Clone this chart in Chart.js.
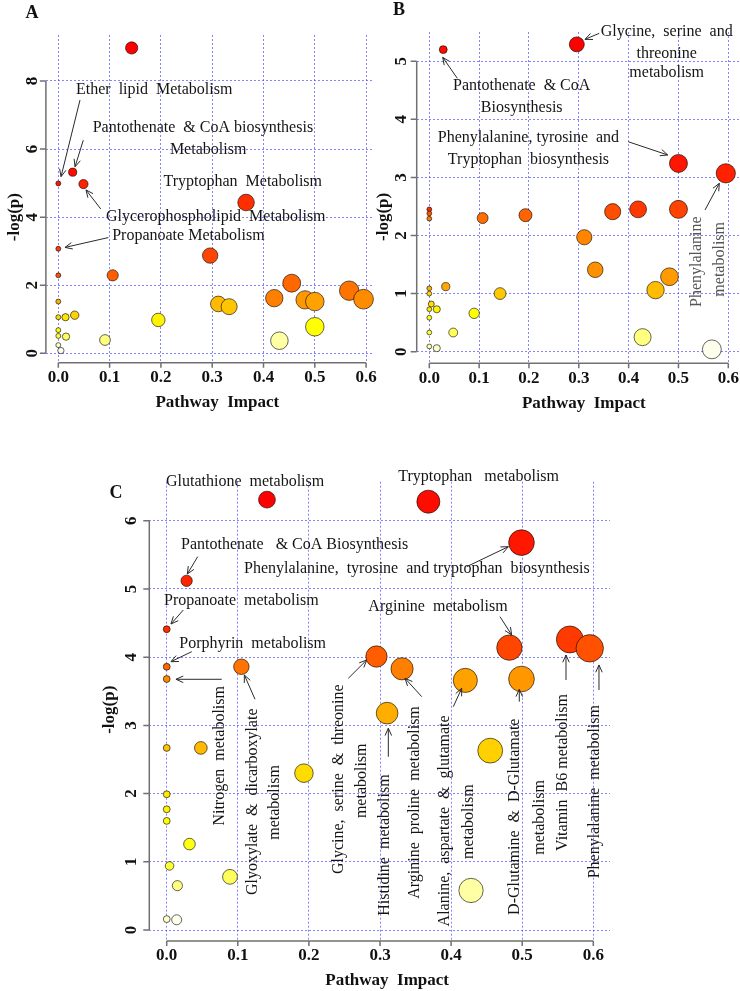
<!DOCTYPE html>
<html>
<head>
<meta charset="utf-8">
<script src="https://cdn.jsdelivr.net/npm/chart.js@4.4.0/dist/chart.umd.min.js"></script>
<style>
  html, body { margin: 0; padding: 0; background: #fff; }
  body { width: 740px; height: 991px; position: relative; overflow: hidden; }
  canvas { position: absolute; }
  #chartA { left: 0; top: 0; }
  #chartB { left: 370px; top: 0; }
  #chartC { left: 90px; top: 450px; }
</style>
</head>
<body>
<canvas id="chartA" width="390" height="420"></canvas>
<canvas id="chartB" width="390" height="420"></canvas>
<canvas id="chartC" width="560" height="541"></canvas>
<script>
// panel A : pathway impact vs -log(p)
const aImpact = [0.143, 0.000, 0.028, 0.049, 0.366, 0.000, 0.000, 0.106, 0.296, 0.455,
                 0.421, 0.481, 0.500, 0.567, 0.595, 0.312, 0.333, 0.195, 0.500, 0.000,
                 0.000, 0.014, 0.032, 0.000, 0.000, 0.015, 0.000, 0.005, 0.091, 0.431];
const aLogP   = [8.97, 4.99, 5.32, 4.97, 4.43, 3.07, 2.29, 2.29, 2.87, 2.06,
                 1.62, 1.57, 1.52, 1.84, 1.59, 1.45, 1.37, 0.98, 0.78, 1.52,
                 1.06, 1.06, 1.12, 0.68, 0.51, 0.49, 0.24, 0.08, 0.39, 0.37];

// panel B
const bImpact = [0.028, 0.296, 0.500, 0.595, 0.000, 0.000, 0.000, 0.107, 0.193, 0.368,
                 0.419, 0.500, 0.311, 0.333, 0.482, 0.454, 0.142, 0.033, 0.000, 0.000,
                 0.004, 0.000, 0.015, 0.000, 0.090, 0.000, 0.048, 0.000, 0.015, 0.428, 0.567];
const bLogP   = [5.20, 5.29, 3.24, 3.07, 2.45, 2.38, 2.29, 2.30, 2.35, 2.41,
                 2.45, 2.45, 1.97, 1.41, 1.29, 1.06, 1.00, 1.12, 1.09, 1.00,
                 0.82, 0.73, 0.73, 0.585, 0.66, 0.33, 0.33, 0.09, 0.06, 0.25, 0.04];

// panel C
const cImpact = [0.141, 0.368, 0.499, 0.028, 0.000, 0.000, 0.000, 0.105, 0.295, 0.331,
                 0.310, 0.420, 0.482, 0.499, 0.567, 0.595, 0.455, 0.428, 0.048, 0.000,
                 0.193, 0.000, 0.000, 0.000, 0.032, 0.004, 0.015, 0.089, 0.000, 0.014];
const cLogP   = [6.31, 6.28, 5.68, 5.12, 4.41, 3.86, 3.68, 3.86, 4.01, 3.83,
                 3.18, 3.66, 4.14, 3.68, 4.26, 4.13, 2.63, 0.58, 2.67, 2.67,
                 2.30, 1.99, 1.77, 1.60, 1.26, 0.94, 0.65, 0.78, 0.16, 0.15];

const impactTicks = [0, 0.1, 0.2, 0.3, 0.4, 0.5, 0.6];
const impactTickLabels = ['0.0', '0.1', '0.2', '0.3', '0.4', '0.5', '0.6'];
const aLogPTicks = [0, 2, 4, 6, 8];
const bLogPTicks = [0, 1, 2, 3, 4, 5];
const cLogPTicks = [0, 1, 2, 3, 4, 5, 6];

// labels (anchored in data units)
const aNotes = [
  { t: 'Ether  lipid  Metabolism', x: 0.0345, y: 7.73 },
  { t: 'Pantothenate  & CoA biosynthesis', x: 0.067, y: 6.62 },
  { t: 'Metabolism', x: 0.292, y: 5.97, align: 'center' },
  { t: 'Tryptophan  Metabolism', x: 0.205, y: 5.04 },
  { t: 'Glycerophospholipid  Metabolism', x: 0.093, y: 4.01 },
  { t: 'Propanoate Metabolism', x: 0.105, y: 3.44 }
];
const aArrows = [
  [[0.0423, 7.44], [0.0053, 5.19]],
  [[0.0487, 6.26], [0.0326, 5.48]],
  [[0.0827, 4.24], [0.054, 4.80]],
  [[0.0975, 3.40], [0.013, 3.11]]
];
const bNotes = [
  { t: 'Glycine,  serine  and', x: 0.4764, y: 5.508, align: 'center' },
  { t: 'threonine', x: 0.4764, y: 5.136, align: 'center' },
  { t: 'metabolism', x: 0.4764, y: 4.802, align: 'center' },
  { t: 'Pantothenate  & CoA', x: 0.1854, y: 4.578, align: 'center' },
  { t: 'Biosynthesis', x: 0.1854, y: 4.206, align: 'center' },
  { t: 'Phenylalanine, tyrosine  and', x: 0.199, y: 3.69, align: 'center' },
  { t: 'Tryptophan  biosynthesis', x: 0.199, y: 3.31, align: 'center' },
  { t: 'Phenylalanine', x: 0.5366, y: 1.549, rot: true, grey: true },
  { t: 'metabolism', x: 0.5834, y: 1.59, rot: true, grey: true }
];
const bArrows = [
  [[0.341, 5.48], [0.3125, 5.377]],
  [[0.0562, 4.706], [0.0269, 5.067]],
  [[0.3994, 3.614], [0.4784, 3.386]],
  [[0.5533, 2.439], [0.582, 2.898]]
];
const cNotes = [
  { t: 'Glutathione  metabolism', x: -0.001, y: 6.57 },
  { t: 'Tryptophan   metabolism', x: 0.3257, y: 6.647 },
  { t: 'Pantothenate   & CoA Biosynthesis', x: 0.0201, y: 5.645 },
  { t: 'Phenylalanine,  tyrosine  and tryptophan  biosynthesis', x: 0.1087, y: 5.289 },
  { t: 'Propanoate  metabolism', x: -0.0038, y: 4.824 },
  { t: 'Arginine  metabolism', x: 0.2836, y: 4.74 },
  { t: 'Porphyrin  metabolism', x: 0.0178, y: 4.194 },
  { t: 'Nitrogen  metabolism', x: 0.075, y: 2.554, rot: true },
  { t: 'Glyoxylate  &  dicarboxylate', x: 0.121, y: 1.88, rot: true },
  { t: 'metabolism', x: 0.1523, y: 1.87, rot: true },
  { t: 'Glycine,  serine  &  threonine', x: 0.2414, y: 2.211, rot: true },
  { t: 'metabolism', x: 0.2743, y: 2.188, rot: true },
  { t: 'Histidine  metabolism', x: 0.307, y: 1.246, rot: true },
  { t: 'Arginine  proline  metabolism', x: 0.3492, y: 1.87, rot: true },
  { t: 'Alanine,  aspartate  &  glutamate', x: 0.3914, y: 1.60, rot: true },
  { t: 'metabolism', x: 0.4242, y: 1.588, rot: true },
  { t: 'D-Glutamine  &  D-Glutamate', x: 0.4899, y: 1.661, rot: true },
  { t: 'metabolism', x: 0.525, y: 1.65, rot: true },
  { t: 'Vitamin  B6 metabolism', x: 0.5578, y: 2.309, rot: true },
  { t: 'Phenylalanine  metabolism', x: 0.6024, y: 2.028, rot: true }
];
const cArrows = [
  [[0.0436, 5.474], [0.029, 5.22]],
  [[0.4219, 5.327], [0.4805, 5.62]],
  [[0.0234, 4.692], [0.006, 4.487]],
  [[0.4688, 4.594], [0.4852, 4.326]],
  [[0.0352, 4.081], [0.006, 3.934]],
  [[0.0774, 3.676], [0.013, 3.676]],
  [[0.1242, 3.383], [0.1092, 3.739]],
  [[0.2554, 3.69], [0.2813, 3.959]],
  [[0.3117, 2.541], [0.3117, 2.958]],
  [[0.3587, 3.421], [0.3352, 3.69]],
  [[0.4031, 3.274], [0.4149, 3.544]],
  [[0.4959, 3.348], [0.4959, 3.529]],
  [[0.5616, 3.666], [0.5616, 4.032]],
  [[0.608, 3.519], [0.608, 3.886]]
];

const serif = '"Liberation Serif", "Times New Roman", serif';

// R's heat.colors()
function hsv(h, s, v) {
  const i = Math.floor(h * 6), f = h * 6 - i;
  const p = v * (1 - s), q = v * (1 - f * s), t = v * (1 - (1 - f) * s);
  const m = [[v, t, p], [q, v, p], [p, v, t], [p, q, v], [t, p, v], [v, p, q]][i % 6];
  return 'rgb(' + m.map(c => Math.round(c * 255)).join(',') + ')';
}
function heatColors(n) {
  const j = Math.floor(n / 4), i = n - j;
  const out = [];
  for (let k = 0; k < i; k++) out.push(hsv(k / (i - 1) / 6, 1, 1));
  const s0 = 1 - 1 / (2 * j), s1 = 1 / (2 * j);
  for (let k = 0; k < j; k++) out.push(hsv(1 / 6, s0 + (s1 - s0) * k / (j - 1), 1));
  return out;
}

// circle radius in x-axis units, same rule as the pathway plot
function bubbleRadii(impact) {
  const sq = impact.map(Math.sqrt);
  const lo = Math.min(...sq), hi = Math.max(...sq);
  const maxR = (hi - lo) / 40, minR = (hi - lo) / 160;
  return sq.map(s => minR + (maxR - minR) * (s - lo) / (hi - lo));
}

function drawArrow(ctx, x0, y0, x1, y1) {
  const a = Math.atan2(y1 - y0, x1 - x0), h = 8, w = 0.42;
  ctx.beginPath();
  ctx.moveTo(x0, y0);
  ctx.lineTo(x1, y1);
  ctx.moveTo(x1 - h * Math.cos(a - w), y1 - h * Math.sin(a - w));
  ctx.lineTo(x1, y1);
  ctx.lineTo(x1 - h * Math.cos(a + w), y1 - h * Math.sin(a + w));
  ctx.stroke();
}

function rAxes(o) {
  return {
    id: 'rAxes',
    afterDraw(chart) {
      const { ctx, chartArea: area, scales: { x, y } } = chart;
      const px = v => x.getPixelForValue(v), py = v => y.getPixelForValue(v);
      const xt = impactTicks, yt = o.yTicks;
      ctx.save();
      ctx.strokeStyle = '#707070';
      ctx.lineWidth = 1.5;
      ctx.beginPath();
      ctx.moveTo(px(xt[0]), area.bottom);
      ctx.lineTo(px(xt[xt.length - 1]), area.bottom);
      xt.forEach(v => { ctx.moveTo(px(v), area.bottom); ctx.lineTo(px(v), area.bottom + 5); });
      ctx.moveTo(area.left, py(yt[0]));
      ctx.lineTo(area.left, py(yt[yt.length - 1]));
      yt.forEach(v => { ctx.moveTo(area.left, py(v)); ctx.lineTo(area.left - 6, py(v)); });
      ctx.stroke();

      ctx.fillStyle = '#111';
      ctx.textAlign = 'center';
      ctx.textBaseline = 'middle';
      ctx.font = 'bold 17px ' + serif;
      xt.forEach((v, i) => ctx.fillText(impactTickLabels[i], px(v), area.bottom + 15));
      yt.forEach(v => {
        ctx.save();
        ctx.translate(area.left - o.yGap, py(v));
        ctx.rotate(-Math.PI / 2);
        ctx.fillText(String(v), 0, 0);
        ctx.restore();
      });
      ctx.fillText('Pathway  Impact', px(0.31), area.bottom + 40);
      ctx.save();
      ctx.translate(area.left - o.yTitleGap, py(o.yTitleAt));
      ctx.rotate(-Math.PI / 2);
      ctx.fillText('-log(p)', 0, 0);
      ctx.restore();
      ctx.font = 'bold 18px ' + serif;
      ctx.fillText(o.tag, o.tagPos[0], o.tagPos[1]);

      ctx.font = '16px ' + serif;
      o.notes.forEach(n => {
        ctx.fillStyle = n.grey ? '#555' : '#151515';
        if (n.rot) {
          ctx.save();
          ctx.translate(px(n.x), py(n.y));
          ctx.rotate(-Math.PI / 2);
          ctx.textAlign = 'center';
          ctx.fillText(n.t, 0, 0);
          ctx.restore();
        } else {
          ctx.textAlign = n.align || 'left';
          ctx.fillText(n.t, px(n.x), py(n.y));
        }
      });
      ctx.strokeStyle = '#2a2a2a';
      ctx.lineWidth = 1;
      o.arrows.forEach(([p0, p1]) => drawArrow(ctx, px(p0[0]), py(p0[1]), px(p1[0]), py(p1[1])));
      ctx.restore();
    }
  };
}

function makePanel(id, impact, logp, o) {
  const order = impact.map((_, i) => i).sort((p, q) => logp[q] - logp[p]);
  const radii = bubbleRadii(impact);
  const points = order.map(i => ({ x: impact[i], y: logp[i], ru: radii[i] }));
  const gridColor = 'rgba(80, 80, 255, 0.7)';
  const chart = new Chart(document.getElementById(id), {
    type: 'bubble',
    data: {
      datasets: [{
        data: points,
        backgroundColor: heatColors(points.length),
        borderColor: 'rgba(0, 0, 0, 0.6)',
        borderWidth: 1,
        clip: false
      }]
    },
    options: {
      responsive: false,
      animation: false,
      events: [],
      layout: { padding: o.pad },
      plugins: { legend: { display: false }, tooltip: { enabled: false } },
      scales: {
        x: {
          type: 'linear', min: o.xMin, max: o.xMax,
          afterBuildTicks: s => { s.ticks = impactTicks.map(v => ({ value: v })); },
          ticks: { display: false },
          grid: { color: gridColor, lineWidth: 1, drawTicks: false },
          border: { display: false, dash: [2, 2] }
        },
        y: {
          type: 'linear', min: o.yMin, max: o.yMax,
          afterBuildTicks: s => { s.ticks = o.yTicks.map(v => ({ value: v })); },
          ticks: { display: false },
          grid: { color: gridColor, lineWidth: 1, drawTicks: false },
          border: { display: false, dash: [2, 2] }
        }
      }
    },
    plugins: [rAxes(o)]
  });
  // circle radii are in x units: convert through the x scale, then redraw
  const sx = chart.scales.x;
  points.forEach(p => { p.r = sx.getPixelForValue(p.ru) - sx.getPixelForValue(0); });
  chart.update();
  return chart;
}

makePanel('chartA', aImpact, aLogP, {
  pad: { left: 45.9, top: 35, right: 18, bottom: 57.3 },
  xMin: -0.0242, xMax: 0.6115, yMin: -0.276, yMax: 9.35,
  yTicks: aLogPTicks, yGap: 13, yTitleGap: 31, yTitleAt: 4.0,
  tag: 'A', tagPos: [32, 13], notes: aNotes, arrows: aArrows
});

makePanel('chartB', bImpact, bLogP, {
  pad: { left: 46.7, top: 32, right: 20, bottom: 56.7 },
  xMin: -0.0253, xMax: 0.6235, yMin: -0.2, yMax: 5.503,
  yTicks: bLogPTicks, yGap: 15, yTitleGap: 33.4, yTitleAt: 2.32,
  tag: 'B', tagPos: [29, 10], notes: bNotes, arrows: bArrows
});

makePanel('chartC', cImpact, cLogP, {
  pad: { left: 59.3, top: 31.7, right: 40, bottom: 50 },
  xMin: -0.0245, xMax: 0.6235, yMin: -0.161, yMax: 6.573,
  yTicks: cLogPTicks, yGap: 17.6, yTitleGap: 39.3, yTitleAt: 3.23,
  tag: 'C', tagPos: [26, 43], notes: cNotes, arrows: cArrows
});
</script>
</body>
</html>
